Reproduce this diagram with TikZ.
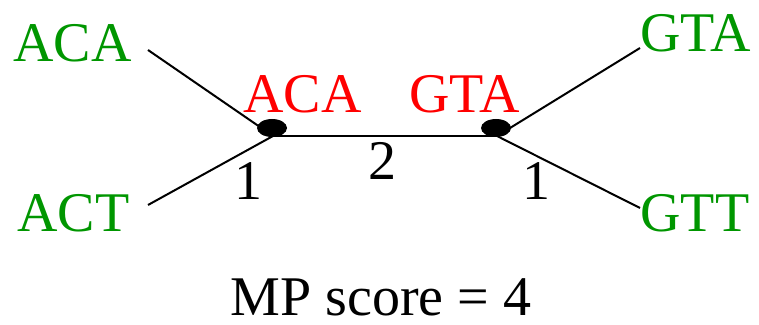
\documentclass[tikz,border=0pt]{standalone}
\usepackage{fontspec}
\setmainfont{Liberation Serif}
\usetikzlibrary{shapes.geometric}
\definecolor{leafgreen}{RGB}{0,150,0}
\begin{document}
\begin{tikzpicture}[x=0.5pt,y=-0.5pt,
    leaf/.style={text=leafgreen,inner sep=0pt,anchor=base west},
    anc/.style={text=red,inner sep=0pt,anchor=base west},
    dot/.style={ellipse,fill=black,minimum width=15pt,minimum height=9pt,inner sep=0pt},
    wt/.style={inner sep=0pt,anchor=base}]
  \useasboundingbox (0,0) rectangle (759,325);
  \fontsize{28}{34}\selectfont
  \coordinate (u) at (273,136);
  \coordinate (v) at (497,136);
  \coordinate (e1) at (148,50);
  \coordinate (e2) at (148,205);
  \coordinate (e3) at (640,48);
  \coordinate (e4) at (640,208);
  \draw
    (13,62) node[leaf] (aca){ACA}
    (17,232) node[leaf] (act){ACT}
    (640,52) node[leaf] (gta){GTA}
    (640,232) node[leaf] (gtt){GTT}
    (243,113) node[anc] (ancu){ACA}
    (409,113) node[anc] (ancv){GTA};
  \begin{scope}[-,line width=1pt]
    \draw (e1) to (u);
    \draw (e2) to (u);
    \draw (u) to (v);
    \draw (v) to (e3);
    \draw (v) to (e4);
  \end{scope}
  \node[dot] (du) at (272,128) {};
  \node[dot] (dv) at (496,128) {};
  \draw
    (248,200) node[wt] (w1){1}
    (382,180) node[wt] (w2){2}
    (536,200) node[wt] (w3){1}
    (381,315) node[wt] (score){MP score = 4};
\end{tikzpicture}
\end{document}
